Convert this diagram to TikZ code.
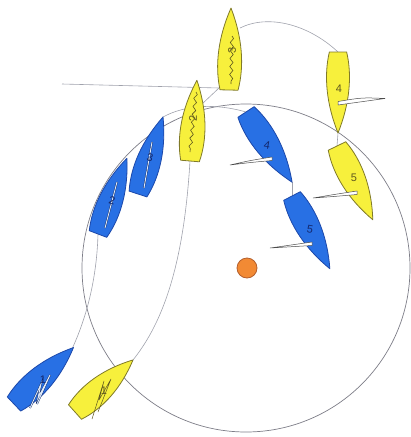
\documentclass[tikz,border=0pt]{standalone}
\usepackage{fontspec}
\setmainfont{Liberation Sans}
\usetikzlibrary{calc,decorations.pathmorphing}

\definecolor{hullyellow}{RGB}{247,240,60}
\definecolor{edgeyellow}{RGB}{128,122,40}
\definecolor{hullblue}{RGB}{40,112,228}
\definecolor{edgeblue}{RGB}{28,72,170}
\definecolor{trackgray}{RGB}{160,162,172}
\definecolor{circlegray}{RGB}{125,125,135}
\definecolor{markorange}{RGB}{242,138,52}
\definecolor{markedge}{RGB}{180,95,45}
\definecolor{numyellow}{RGB}{95,88,30}
\definecolor{numblue}{RGB}{20,40,110}

% hull: stern at the origin, bow along +x
% #1 stern coordinate, #2 heading, #3 length, #4 half beam, #5 style
\newcommand{\drawhull}[5]{%
  \begin{scope}[shift={(#1)},rotate=#2]
    \path[#5] (0,0.72*#4) .. controls (0.3*#3,1.2*#4) and (0.65*#3,0.95*#4) .. (#3,0)
      .. controls (0.65*#3,-0.95*#4) and (0.3*#3,-1.2*#4) .. (0,-0.72*#4) -- cycle;
  \end{scope}}

\tikzset{
  yhull/.style={fill=hullyellow,draw=edgeyellow,line width=0.8pt,line join=round},
  bhull/.style={fill=hullblue,draw=edgeblue,line width=0.8pt,line join=round},
  track/.style={draw=trackgray,line width=0.6pt},
  ring/.style={draw=circlegray,line width=0.7pt},
  sailcloth/.style={fill=white,draw=black!70,line width=0.5pt,line join=round},
  yluff/.style={draw=numyellow,line width=0.6pt,decorate,
    decoration={snake,amplitude=1.6pt,segment length=8pt}},
  bluff/.style={draw=edgeblue!60!black,line width=0.4pt,double=white!85!hullblue,double distance=0.9pt},
  ynum/.style={text=numyellow,font=\fontsize{11}{11}\selectfont,inner sep=0pt},
  bnum/.style={text=numblue,font=\fontsize{11}{11}\selectfont,inner sep=0pt},
}

\begin{document}
\begin{tikzpicture}[x=1pt,y=-1pt]
\useasboundingbox (0,0) rectangle (411,437);

% stern and bow points of each position
\coordinate (y1s) at (75,412);  \coordinate (y1b) at (133,360);
\coordinate (y2s) at (190,161); \coordinate (y2b) at (197,80);
\coordinate (y3s) at (229,90);  \coordinate (y3b) at (231,8);
\coordinate (y4s) at (338,52);  \coordinate (y4b) at (338,133);
\coordinate (y5s) at (337,146); \coordinate (y5b) at (373,220);
\coordinate (b1s) at (14,404);  \coordinate (b1b) at (72,349);
\coordinate (b2s) at (98,234);  \coordinate (b2b) at (127,158);
\coordinate (b3s) at (138,194); \coordinate (b3b) at (163,117);
\coordinate (b4s) at (246,112); \coordinate (b4b) at (292,182);
\coordinate (b5s) at (292,196); \coordinate (b5b) at (330,269);

% the mark and its zone
\coordinate (markc) at (246,268);
\path[ring] (markc) circle[radius=164];
\node[circle,minimum size=20pt,inner sep=0pt,fill=markorange,draw=markedge,line width=0.8pt] (mark) at (247,268) {};

% laylines and tracks
\coordinate (lineW) at (62,84);
\coordinate (y2j) at (202,104);
\coordinate (y3j) at (219,88);
\coordinate (y3t) at (240,28);
\path[track] (lineW) -- (y3j);
\path[track] (y1b) .. controls (165,320) and (184,260) .. (y2s);
\path[track] (y2j) -- (y3j);
\path[track] (y3t) .. controls (268,14) and (308,24) .. (y4s);
\path[track] (y4b) -- (y5s);
\path[track] (b1b) .. controls (90,310) and (97,270) .. (b2s);
\path[track] (b3b) .. controls (185,105) and (215,103) .. (b4s);
\path[track] (b4b) -- (b5s);

% yellow boat
\drawhull{y1s}{41.9}{78}{13.5}{yhull}
\drawhull{y2s}{85.1}{81}{13}{yhull}
\drawhull{y3s}{88.6}{82}{12.5}{yhull}
\drawhull{y4s}{-90}{81}{12}{yhull}
\drawhull{y5s}{-64.1}{82}{13.5}{yhull}

% blue boat
\drawhull{b1s}{43.5}{82}{13.5}{bhull}
\drawhull{b2s}{69.1}{81}{13}{bhull}
\drawhull{b3s}{72.0}{81}{13}{bhull}
\drawhull{b4s}{-56.7}{84}{13.5}{bhull}
\drawhull{b5s}{-62.5}{82}{13}{bhull}

% luffing sails
\path[yluff] (232,36) -- (231,84);
\path[yluff] (196,92) -- (190,152);
\path[draw=numyellow,line width=0.5pt,line join=round] (92,419) -- (104,381) -- (99,400) -- (111,379) -- (98,412);
\path[bluff] (152,142) -- (144,188);
\path[bluff] (117,182) -- (105,228);
\path[bluff] (30,408) -- (41,384) -- (38,398) -- (50,375) -- (37,404);

% drawing sails
\path[sailcloth] (338,101.5) .. controls (362,97.5) .. (385,98.5) .. controls (362,101) .. (338,105) -- cycle;
\path[sailcloth] (357,191) .. controls (334,194.5) .. (313,198) .. controls (334,196.5) .. (357,194.5) -- cycle;
\path[sailcloth] (272,157) .. controls (250,160.5) .. (230,165) .. controls (250,162.5) .. (272,160.5) -- cycle;
\path[sailcloth] (312,242) .. controls (291,244.5) .. (270,248) .. controls (291,246.5) .. (312,245.5) -- cycle;

% numbers
\node[ynum] (n1y) at (104,391) {1};
\node[ynum,rotate=90] (n2y) at (193,118) {2};
\node[ynum,rotate=90] (n3y) at (232,50) {3};
\node[ynum] (n4y) at (339,89) {4};
\node[ynum] (n5y) at (354,178) {5};
\node[bnum] (n1b) at (43,380) {1};
\node[bnum,rotate=-15] (n2b) at (112,201) {2};
\node[bnum,rotate=-15] (n3b) at (150,158) {3};
\node[bnum,rotate=-10] (n4b) at (267,145) {4};
\node[bnum,rotate=-10] (n5b) at (310,229) {5};
\end{tikzpicture}
\end{document}
